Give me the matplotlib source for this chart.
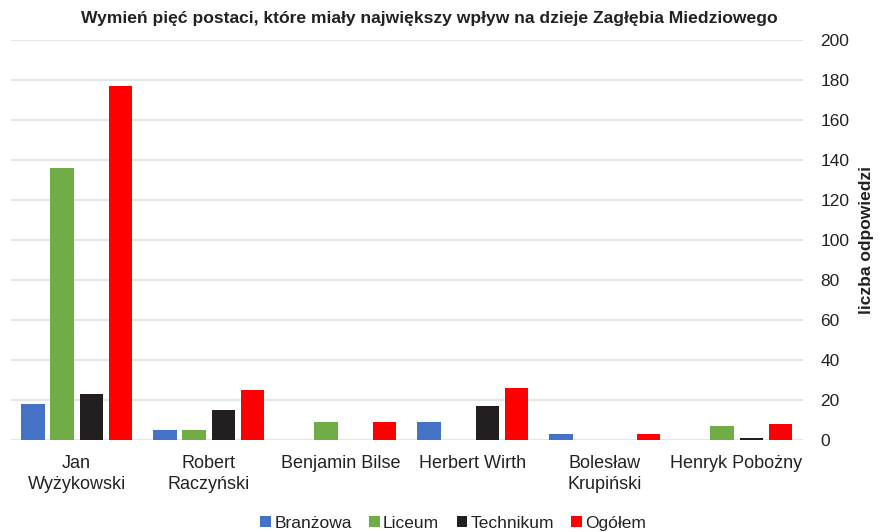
import matplotlib
matplotlib.use("Agg")
import matplotlib.pyplot as plt
import numpy as np

categories = ["Jan\nWyżykowski", "Robert\nRaczyński", "Benjamin Bilse", "Herbert Wirth",
              "Bolesław\nKrupiński", "Henryk Pobożny"]
series_names = ["Branżowa", "Liceum", "Technikum", "Ogółem"]
branzowa = [18, 5, 0, 9, 3, 0]
liceum = [136, 5, 9, 0, 0, 7]
technikum = [23, 15, 0, 17, 0, 1]
ogolem = [177, 25, 9, 26, 3, 8]
colors = ["#4472C4", "#70AD47", "#231F20", "#FF0000"]
yticks = list(range(0, 201, 20))

plt.rcParams['font.family'] = ['Liberation Sans', 'DejaVu Sans']

fig = plt.figure(figsize=(8.8, 5.32), dpi=100)
ax = fig.add_axes([0.012, 0.173, 0.900, 0.752])

x = np.arange(len(categories))
step = 0.22
width = 0.175
data = [branzowa, liceum, technikum, ogolem]
for i, (name, vals, c) in enumerate(zip(series_names, data, colors)):
    ax.bar(x + (i - 1.5) * step, vals, width, color=c, label=name, zorder=3)

ax.set_xlim(-0.5, len(categories) - 0.5)
ax.set_ylim(0, 200)
ax.set_yticks(yticks)
ax.yaxis.tick_right()
ax.yaxis.set_label_position("right")
ax.grid(axis='y', color='#DDE1E8', linewidth=1.2, zorder=0)
for s in ax.spines.values():
    s.set_visible(False)
ax.tick_params(axis='y', length=0, pad=13, labelsize=12.5, labelcolor='#222222')
ax.tick_params(axis='x', length=0, pad=11, labelsize=13, labelcolor='#222222')
ax.set_xticks(x)
ax.set_xticklabels(categories, linespacing=1.3)
ax.set_ylabel("liczba odpowiedzi", fontsize=12.5, fontweight='bold', labelpad=7, color='#222222')

fig.text(0.488, 0.965, "Wymień pięć postaci, które miały największy wpływ na dzieje Zagłębia Miedziowego",
         ha='center', va='center', fontsize=12.6, fontweight='bold', color='#222222')

leg = fig.legend(loc='center', bbox_to_anchor=(0.515, 0.016), ncol=4, frameon=False,
                 fontsize=12.5, handlelength=0.6, handleheight=0.6, handletextpad=0.2,
                 columnspacing=1.0)
for t in leg.get_texts():
    t.set_color('#222222')

fig.savefig("out.png", dpi=100)
